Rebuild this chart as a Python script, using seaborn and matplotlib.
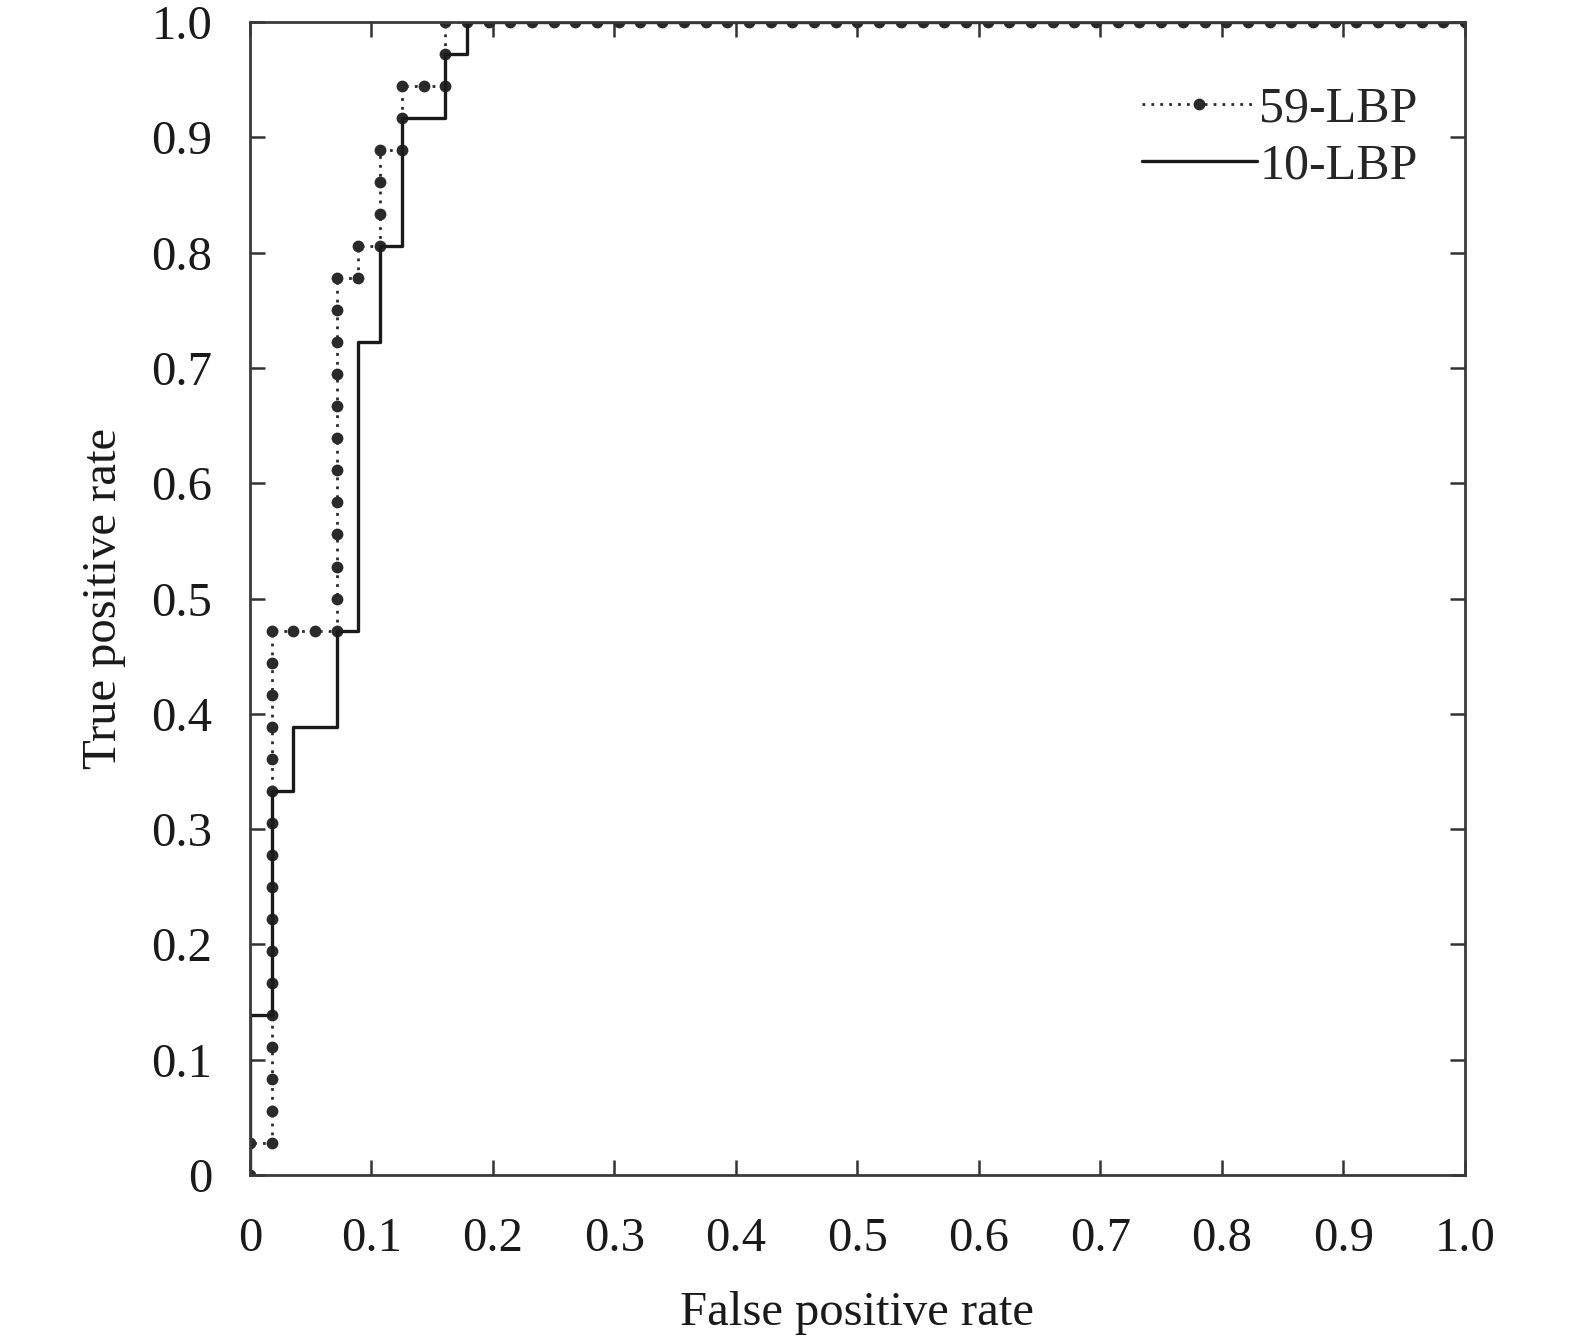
import matplotlib
matplotlib.use("Agg")
import matplotlib.pyplot as plt
import seaborn as sns
import pandas as pd
import numpy as np

# ---- data (counts) ----
n_neg = 56
n_pos = 36

fp_59 = [0, 0,
         1, 1, 1, 1, 1, 1, 1, 1, 1, 1, 1, 1, 1, 1, 1, 1, 1,
         2, 3,
         4, 4, 4, 4, 4, 4, 4, 4, 4, 4, 4, 4,
         5, 5,
         6, 6, 6, 6,
         7, 7, 7,
         8, 9, 9, 9,
         10, 11, 12, 13, 14, 15, 16, 17, 18, 19, 20, 21, 22, 23, 24, 25,
         26, 27, 28, 29, 30, 31, 32, 33, 34, 35, 36, 37, 38, 39, 40, 41,
         42, 43, 44, 45, 46, 47, 48, 49, 50, 51, 52, 53, 54, 55, 56]
tp_59 = [0, 1,
         1, 2, 3, 4, 5, 6, 7, 8, 9, 10, 11, 12, 13, 14, 15, 16, 17,
         17, 17,
         17, 18, 19, 20, 21, 22, 23, 24, 25, 26, 27, 28,
         28, 29,
         29, 30, 31, 32,
         32, 33, 34,
         34, 34, 35, 36,
         36, 36, 36, 36, 36, 36, 36, 36, 36, 36, 36, 36, 36, 36, 36, 36,
         36, 36, 36, 36, 36, 36, 36, 36, 36, 36, 36, 36, 36, 36, 36, 36,
         36, 36, 36, 36, 36, 36, 36, 36, 36, 36, 36, 36, 36, 36, 36]

fp_10 = [0, 0, 1, 1, 2, 2, 4, 4, 5, 5, 6, 6, 7, 7, 9, 9, 10, 10, 56]
tp_10 = [0, 5, 5, 12, 12, 14, 14, 17, 17, 26, 26, 29, 29, 33, 33, 35, 35, 36, 36]

labels = ["59-LBP", "10-LBP"]
tick_vals = [0, 0.1, 0.2, 0.3, 0.4, 0.5, 0.6, 0.7, 0.8, 0.9, 1.0]
tick_labels = ["0", "0.1", "0.2", "0.3", "0.4", "0.5", "0.6", "0.7", "0.8", "0.9", "1.0"]

df59 = pd.DataFrame({"fpr": np.array(fp_59) / n_neg, "tpr": np.array(tp_59) / n_pos})
df10 = pd.DataFrame({"fpr": np.array(fp_10) / n_neg, "tpr": np.array(tp_10) / n_pos})

sns.set_theme(style="white")
plt.rcParams["font.family"] = ["Liberation Serif", "DejaVu Serif"]
plt.rcParams["mathtext.fontset"] = "stix"

fig = plt.figure(figsize=(15.75, 13.44), dpi=100)
ax = fig.add_axes([0.1587, 0.1257, 0.7714, 0.8579])

sns.lineplot(data=df59, x="fpr", y="tpr", sort=False, estimator=None, ax=ax,
             color="#2a2a2a", linestyle=(0, (1, 2.2)), linewidth=2.0,
             marker="o", markersize=8.5, markeredgewidth=0, label=labels[0])
sns.lineplot(data=df10, x="fpr", y="tpr", sort=False, estimator=None, ax=ax,
             color="#1a1a1a", linestyle="-", linewidth=2.4, label=labels[1])

ax.set_xlim(0, 1.0)
ax.set_ylim(0, 1.0)
ax.set_xticks(tick_vals)
ax.set_xticklabels(tick_labels)
ax.set_yticks(tick_vals)
ax.set_yticklabels(tick_labels)
ax.tick_params(axis="both", which="major", direction="in", length=11, width=1.8,
               color="#333333", labelsize=35, top=True, right=True,
               bottom=True, left=True, labelcolor="#1a1a1a")
ax.tick_params(axis="x", pad=30)
ax.tick_params(axis="y", pad=27)
for s in ax.spines.values():
    s.set_visible(True)
    s.set_linewidth(2.0)
    s.set_color("#3a3a3a")

ax.set_xlabel("False positive rate", fontsize=35, labelpad=22, color="#1a1a1a")
ax.set_ylabel("True positive rate", fontsize=35, labelpad=18, color="#1a1a1a")

leg = ax.legend(loc="upper right", bbox_to_anchor=(0.99, 0.975), frameon=False,
                fontsize=36, handlelength=2.3, handletextpad=0.05, labelspacing=0.22,
                borderpad=0.2)

fig.savefig("out.png", dpi=100, facecolor="white")
